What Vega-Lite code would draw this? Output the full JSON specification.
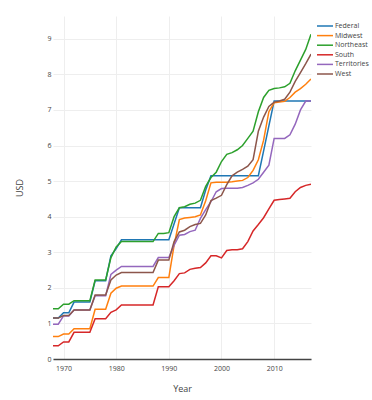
{
  "$schema": "https://vega.github.io/schema/vega-lite/v6.json",
  "width": 258,
  "height": 343,
  "autosize": {"type": "none"},
  "padding": {"left": 53, "top": 16, "right": 61, "bottom": 41},
  "background": "white",
  "config": {"view": {"stroke": null}, "font": "Open Sans"},
  "data": {
    "values": [
      {"Year": 1968, "Federal": 1.15, "Midwest": 0.63, "Northeast": 1.41, "South": 0.37, "Territories": 0.98, "West": 1.15},
      {"Year": 1969, "Federal": 1.15, "Midwest": 0.63, "Northeast": 1.41, "South": 0.37, "Territories": 0.98, "West": 1.15},
      {"Year": 1970, "Federal": 1.30, "Midwest": 0.70, "Northeast": 1.54, "South": 0.48, "Territories": 1.21, "West": 1.22},
      {"Year": 1971, "Federal": 1.30, "Midwest": 0.70, "Northeast": 1.54, "South": 0.48, "Territories": 1.21, "West": 1.22},
      {"Year": 1972, "Federal": 1.60, "Midwest": 0.85, "Northeast": 1.64, "South": 0.75, "Territories": 1.38, "West": 1.38},
      {"Year": 1973, "Federal": 1.60, "Midwest": 0.85, "Northeast": 1.64, "South": 0.75, "Territories": 1.38, "West": 1.38},
      {"Year": 1974, "Federal": 1.60, "Midwest": 0.85, "Northeast": 1.64, "South": 0.75, "Territories": 1.38, "West": 1.38},
      {"Year": 1975, "Federal": 1.60, "Midwest": 0.85, "Northeast": 1.64, "South": 0.75, "Territories": 1.38, "West": 1.38},
      {"Year": 1976, "Federal": 2.20, "Midwest": 1.40, "Northeast": 2.22, "South": 1.13, "Territories": 1.78, "West": 1.80},
      {"Year": 1977, "Federal": 2.20, "Midwest": 1.40, "Northeast": 2.22, "South": 1.13, "Territories": 1.78, "West": 1.80},
      {"Year": 1978, "Federal": 2.20, "Midwest": 1.40, "Northeast": 2.22, "South": 1.13, "Territories": 1.78, "West": 1.80},
      {"Year": 1979, "Federal": 2.90, "Midwest": 1.85, "Northeast": 2.85, "South": 1.31, "Territories": 2.38, "West": 2.22},
      {"Year": 1980, "Federal": 3.10, "Midwest": 1.99, "Northeast": 3.15, "South": 1.38, "Territories": 2.50, "West": 2.36},
      {"Year": 1981, "Federal": 3.35, "Midwest": 2.05, "Northeast": 3.30, "South": 1.52, "Territories": 2.60, "West": 2.43},
      {"Year": 1982, "Federal": 3.35, "Midwest": 2.05, "Northeast": 3.30, "South": 1.52, "Territories": 2.60, "West": 2.43},
      {"Year": 1983, "Federal": 3.35, "Midwest": 2.05, "Northeast": 3.30, "South": 1.52, "Territories": 2.60, "West": 2.43},
      {"Year": 1984, "Federal": 3.35, "Midwest": 2.05, "Northeast": 3.30, "South": 1.52, "Territories": 2.60, "West": 2.43},
      {"Year": 1985, "Federal": 3.35, "Midwest": 2.05, "Northeast": 3.30, "South": 1.52, "Territories": 2.60, "West": 2.43},
      {"Year": 1986, "Federal": 3.35, "Midwest": 2.05, "Northeast": 3.30, "South": 1.52, "Territories": 2.60, "West": 2.43},
      {"Year": 1987, "Federal": 3.35, "Midwest": 2.05, "Northeast": 3.30, "South": 1.52, "Territories": 2.60, "West": 2.43},
      {"Year": 1988, "Federal": 3.35, "Midwest": 2.29, "Northeast": 3.53, "South": 2.03, "Territories": 2.85, "West": 2.78},
      {"Year": 1989, "Federal": 3.35, "Midwest": 2.29, "Northeast": 3.53, "South": 2.03, "Territories": 2.85, "West": 2.78},
      {"Year": 1990, "Federal": 3.35, "Midwest": 2.29, "Northeast": 3.55, "South": 2.03, "Territories": 2.85, "West": 2.78},
      {"Year": 1991, "Federal": 3.80, "Midwest": 3.20, "Northeast": 4.00, "South": 2.20, "Territories": 3.20, "West": 3.30},
      {"Year": 1992, "Federal": 4.25, "Midwest": 3.92, "Northeast": 4.25, "South": 2.40, "Territories": 3.48, "West": 3.57},
      {"Year": 1993, "Federal": 4.25, "Midwest": 3.96, "Northeast": 4.28, "South": 2.42, "Territories": 3.50, "West": 3.62},
      {"Year": 1994, "Federal": 4.25, "Midwest": 3.98, "Northeast": 4.35, "South": 2.52, "Territories": 3.58, "West": 3.72},
      {"Year": 1995, "Federal": 4.25, "Midwest": 4.00, "Northeast": 4.38, "South": 2.55, "Territories": 3.62, "West": 3.78},
      {"Year": 1996, "Federal": 4.25, "Midwest": 4.05, "Northeast": 4.46, "South": 2.57, "Territories": 3.95, "West": 3.81},
      {"Year": 1997, "Federal": 4.75, "Midwest": 4.45, "Northeast": 4.85, "South": 2.70, "Territories": 4.20, "West": 4.05},
      {"Year": 1998, "Federal": 5.15, "Midwest": 4.95, "Northeast": 5.10, "South": 2.90, "Territories": 4.42, "West": 4.45},
      {"Year": 1999, "Federal": 5.15, "Midwest": 4.97, "Northeast": 5.25, "South": 2.90, "Territories": 4.70, "West": 4.52},
      {"Year": 2000, "Federal": 5.15, "Midwest": 4.97, "Northeast": 5.55, "South": 2.84, "Territories": 4.79, "West": 4.60},
      {"Year": 2001, "Federal": 5.15, "Midwest": 4.97, "Northeast": 5.75, "South": 3.05, "Territories": 4.80, "West": 4.90},
      {"Year": 2002, "Federal": 5.15, "Midwest": 4.98, "Northeast": 5.80, "South": 3.07, "Territories": 4.80, "West": 5.15},
      {"Year": 2003, "Federal": 5.15, "Midwest": 5.00, "Northeast": 5.88, "South": 3.07, "Territories": 4.80, "West": 5.25},
      {"Year": 2004, "Federal": 5.15, "Midwest": 5.02, "Northeast": 6.00, "South": 3.10, "Territories": 4.82, "West": 5.33},
      {"Year": 2005, "Federal": 5.15, "Midwest": 5.10, "Northeast": 6.20, "South": 3.30, "Territories": 4.88, "West": 5.42},
      {"Year": 2006, "Federal": 5.15, "Midwest": 5.30, "Northeast": 6.40, "South": 3.60, "Territories": 4.95, "West": 5.60},
      {"Year": 2007, "Federal": 5.15, "Midwest": 5.60, "Northeast": 6.95, "South": 3.78, "Territories": 5.05, "West": 6.40},
      {"Year": 2008, "Federal": 5.85, "Midwest": 6.15, "Northeast": 7.35, "South": 3.97, "Territories": 5.25, "West": 6.80},
      {"Year": 2009, "Federal": 6.55, "Midwest": 6.95, "Northeast": 7.55, "South": 4.22, "Territories": 5.45, "West": 7.10},
      {"Year": 2010, "Federal": 7.25, "Midwest": 7.20, "Northeast": 7.60, "South": 4.46, "Territories": 6.20, "West": 7.22},
      {"Year": 2011, "Federal": 7.25, "Midwest": 7.22, "Northeast": 7.62, "South": 4.48, "Territories": 6.20, "West": 7.25},
      {"Year": 2012, "Federal": 7.25, "Midwest": 7.24, "Northeast": 7.65, "South": 4.50, "Territories": 6.20, "West": 7.30},
      {"Year": 2013, "Federal": 7.25, "Midwest": 7.35, "Northeast": 7.75, "South": 4.52, "Territories": 6.30, "West": 7.50},
      {"Year": 2014, "Federal": 7.25, "Midwest": 7.50, "Northeast": 8.10, "South": 4.70, "Territories": 6.60, "West": 7.80},
      {"Year": 2015, "Federal": 7.25, "Midwest": 7.60, "Northeast": 8.40, "South": 4.82, "Territories": 7.00, "West": 8.05},
      {"Year": 2016, "Federal": 7.25, "Midwest": 7.72, "Northeast": 8.70, "South": 4.88, "Territories": 7.25, "West": 8.30},
      {"Year": 2017, "Federal": 7.25, "Midwest": 7.87, "Northeast": 9.13, "South": 4.91, "Territories": 7.25, "West": 8.57}
    ]
  },
  "transform": [
    {"fold": ["Federal", "Midwest", "Northeast", "South", "Territories", "West"], "as": ["region", "wage"]}
  ],
  "mark": {"type": "line", "strokeWidth": 1.5, "clip": true},
  "encoding": {
    "x": {
      "field": "Year",
      "type": "quantitative",
      "scale": {"domain": [1968, 2017], "nice": false, "zero": false},
      "axis": {
        "values": [1970, 1980, 1990, 2000, 2010],
        "format": "d",
        "title": "Year",
        "grid": true,
        "gridColor": "#eeeeee",
        "ticks": false,
        "domain": true,
        "domainColor": "#444444",
        "domainWidth": 1.5,
        "labelFontSize": 7,
        "labelColor": "#444444",
        "labelPadding": 5,
        "titleFontSize": 9,
        "titleColor": "#444444",
        "titleFontWeight": "normal",
        "titlePadding": 13
      }
    },
    "y": {
      "field": "wage",
      "type": "quantitative",
      "scale": {"domain": [0, 9.64], "nice": false},
      "axis": {
        "values": [0, 1, 2, 3, 4, 5, 6, 7, 8, 9],
        "title": "USD",
        "grid": true,
        "gridColor": "#eeeeee",
        "ticks": false,
        "domain": false,
        "labelFontSize": 7,
        "labelColor": "#444444",
        "labelPadding": 2,
        "titleFontSize": 9,
        "titleColor": "#444444",
        "titleFontWeight": "normal",
        "titlePadding": 22
      }
    },
    "color": {
      "field": "region",
      "type": "nominal",
      "scale": {
        "domain": ["Federal", "Midwest", "Northeast", "South", "Territories", "West"],
        "range": ["#1f77b4", "#ff7f0e", "#2ca02c", "#d62728", "#9467bd", "#8c564b"]
      },
      "legend": {
        "title": null,
        "orient": "none",
        "legendX": 266,
        "legendY": 4,
        "symbolType": "M-1.6,0H1.6",
        "symbolSize": 100,
        "symbolStrokeWidth": 1.5,
        "labelFontSize": 7,
        "labelColor": "#444444",
        "labelOffset": 4,
        "rowPadding": 0.6
      }
    }
  }
}
